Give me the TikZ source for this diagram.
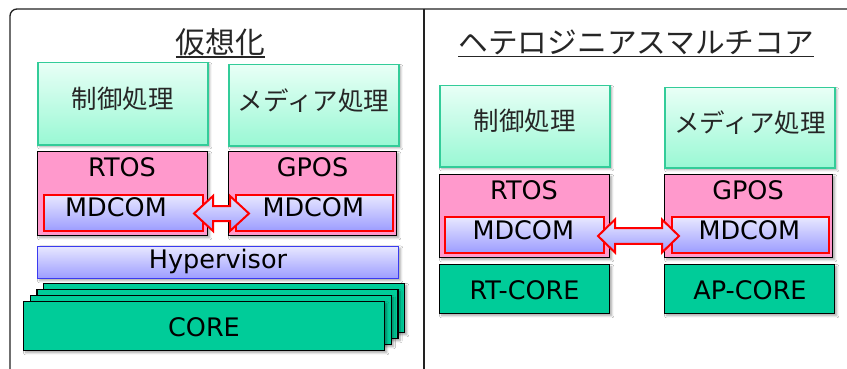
\documentclass[tikz,border=0pt]{standalone}
\usepackage{fontspec}
\setmainfont{DejaVu Sans}
\newfontfamily\jp{Noto Sans CJK JP}
\usetikzlibrary{shadows.blur,calc}
\definecolor{tealedge}{HTML}{33CC99}
\definecolor{mintTop}{HTML}{E8FFF6}
\definecolor{mintBot}{HTML}{99F8D4}
\definecolor{osPink}{HTML}{FF99CC}
\definecolor{lavTop}{HTML}{E8E8FF}
\definecolor{lavBot}{HTML}{9C9CFF}
\definecolor{hvEdge}{HTML}{3A3AF0}
\definecolor{coreGreen}{HTML}{00CC99}
\definecolor{frameCol}{HTML}{222222}
\begin{document}
\begin{tikzpicture}[x=1pt,y=-1pt,
  shd/.style={blur shadow={shadow xshift=2pt,shadow yshift=-2pt,shadow blur steps=6,shadow opacity=35}},
  appbox/.style={draw=tealedge,line width=1.5pt,top color=mintTop,bottom color=mintBot,anchor=north west,inner sep=0pt,shd},
  osbox/.style={draw=black,line width=1.4pt,fill=osPink,anchor=north west,inner sep=0pt,shd},
  mdbox/.style={draw=red,line width=2pt,top color=lavTop,bottom color=lavBot,anchor=north west,inner sep=0pt},
  hvbox/.style={draw=hvEdge,line width=1.3pt,top color=lavTop,bottom color=lavBot,anchor=north west,inner sep=0pt,shd},
  corebox/.style={draw=black,line width=1.4pt,fill=coreGreen,anchor=north west,inner sep=0pt,shd},
  lat/.style={font=\fontsize{25.5}{30}\selectfont,anchor=base,inner sep=0pt,text=black},
  jpt/.style={font=\jp\fontsize{25.5}{30}\selectfont,anchor=base,inner sep=0pt,text=black!85},
  ttl/.style={font=\jp\fontsize{29.7}{34}\selectfont,anchor=base,inner sep=0pt,text=black!85},
  uline/.style={draw=black!85,line width=1.5pt},
  barrow/.style={draw=red,line width=2pt,top color=lavTop,bottom color=lavBot,line join=miter},
  frame/.style={draw=frameCol,line width=1.3pt}]
\useasboundingbox (0,0) rectangle (847,369);
\clip (0,0) rectangle (847,369);
\fill[white] (0,0) rectangle (847,369);
% frame
\draw[frame,rounded corners=7pt] (10,380) -- (10,9) -- (860,9);
\draw[frame] (424,9) -- (424,380);

% ===== left panel =====
\node[ttl] (t1) at (220.5,53.5) {仮想化};
\draw[uline] ($(t1.base west)+(0,3.5)$) -- ($(t1.base east)+(0,3.5)$);

\node[appbox,minimum width=170pt,minimum height=82pt] (app1) at (37,62) {};
\node[appbox,minimum width=170pt,minimum height=81pt] (app2) at (228,64) {};
\node[jpt] (app1t) at (122.5,108.5) {制御処理};
\node[jpt] (app2t) at (313.5,110.3) {メディア処理};

\node[osbox,minimum width=170pt,minimum height=84pt] (os1) at (37,151) {};
\node[osbox,minimum width=168pt,minimum height=84pt] (os2) at (228,151) {};
\node[lat] (os1t) at (122,176.5) {RTOS};
\node[lat] (os2t) at (312.5,176.5) {GPOS};

\node[mdbox,minimum width=159pt,minimum height=36pt] (md1) at (43,194) {};
\node[mdbox,minimum width=157pt,minimum height=36pt] (md2) at (235,194) {};
\node[lat] (md1t) at (116,216.5) {MDCOM};
\node[lat] (md2t) at (313.3,216.5) {MDCOM};

\coordinate (c1) at ($(md1.east)!0.5!(md2.west)+(2,0.5)$);
\draw[barrow] ($(c1)+(-27.5,0)$) -- ++(19,-17.5) -- ++(0,10) -- ++(17,0) -- ++(0,-10)
  -- ++(19,17.5) -- ++(-19,17.5) -- ++(0,-10) -- ++(-17,0) -- ++(0,10) -- cycle;

\node[hvbox,minimum width=361pt,minimum height=32.5pt] (hv) at (37,245.5) {};
\node[lat] (hvt) at (218,268.3) {Hypervisor};

\node[corebox,minimum width=361pt,minimum height=49pt] (core4) at (43,283) {};
\node[corebox,minimum width=361pt,minimum height=49pt] (core3) at (36.3,289) {};
\node[corebox,minimum width=361pt,minimum height=49pt] (core2) at (29.7,295) {};
\node[corebox,minimum width=361pt,minimum height=49pt] (core1) at (23,301) {};
\node[lat] (coret) at (204,336) {CORE};

% ===== right panel =====
\node[ttl] (t2) at (636.3,53.5) {ヘテロジニアスマルチコア};
\draw[uline] ($(t2.base west)+(0,3)$) -- ($(t2.base east)+(0,3)$);

\node[appbox,minimum width=170pt,minimum height=81pt] (app3) at (439,85) {};
\node[appbox,minimum width=170pt,minimum height=80pt] (app4) at (664,87) {};
\node[jpt] (app3t) at (524.7,130.8) {制御処理};
\node[jpt] (app4t) at (750,132.4) {メディア処理};

\node[osbox,minimum width=170pt,minimum height=83pt] (os3) at (439,174) {};
\node[osbox,minimum width=168pt,minimum height=83pt] (os4) at (664,174) {};
\node[lat] (os3t) at (524,199) {RTOS};
\node[lat] (os4t) at (748,199) {GPOS};

\node[mdbox,minimum width=159pt,minimum height=36pt] (md3) at (444,216) {};
\node[mdbox,minimum width=157pt,minimum height=36pt] (md4) at (671,216) {};
\node[lat] (md3t) at (523.3,239) {MDCOM};
\node[lat] (md4t) at (749.3,239) {MDCOM};

\coordinate (c2) at ($(md3.east)!0.5!(md4.west)+(0.5,1)$);
\draw[barrow] ($(c2)+(-40.5,0)$) -- ++(17,-16.5) -- ++(0,8.7) -- ++(47,0) -- ++(0,-8.7)
  -- ++(17,16.5) -- ++(-17,16.5) -- ++(0,-8.7) -- ++(-47,0) -- ++(0,8.7) -- cycle;

\node[corebox,minimum width=170pt,minimum height=49pt] (core5) at (439,264) {};
\node[corebox,minimum width=170pt,minimum height=49pt] (core6) at (664,264) {};
\node[lat] (core5t) at (524.5,299) {RT-CORE};
\node[lat] (core6t) at (750,299) {AP-CORE};
\end{tikzpicture}
\end{document}
